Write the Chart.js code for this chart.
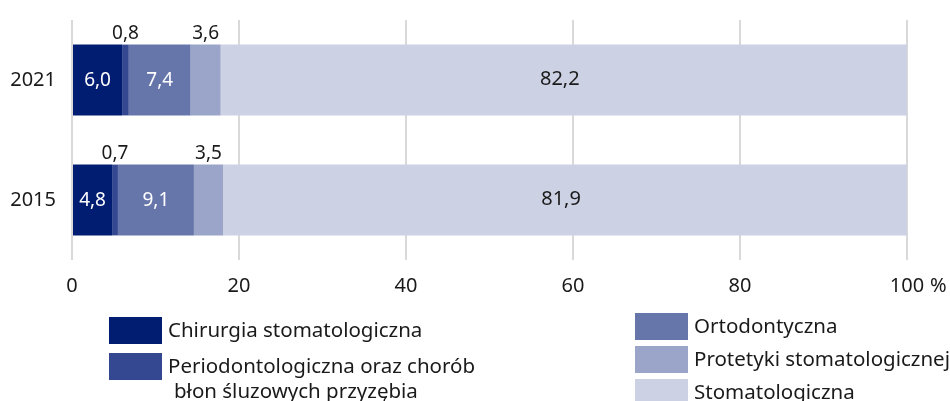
<!DOCTYPE html>
<html>
<head>
<meta charset="utf-8">
<script src="https://cdn.jsdelivr.net/npm/chart.js@4/dist/chart.umd.min.js"></script>
<style>
  html, body { margin: 0; padding: 0; background: #fff; }
  #wrap { position: relative; width: 950px; height: 401px; overflow: hidden; }
  canvas { position: absolute; left: 0; top: 0; }
  .leg { position: absolute; font-family: "Noto Sans", sans-serif; font-size: 20.5px; color: #1a1a1a; line-height: 25px; white-space: nowrap; }
  .leg i { position: absolute; left: 0; top: 0; width: 53px; height: 27px; }
  .leg span { position: absolute; left: 59px; top: 0px; }
  .leg b { font-weight: normal; padding-left: 6px; }
</style>
</head>
<body>
<div id="wrap">
  <canvas id="chart" width="950" height="401"></canvas>
</div>
<script>
// --- data ---
const years = ['2021', '2015'];
const seriesNames = [
    'Chirurgia stomatologiczna',
    'Periodontologiczna oraz chorób\nbłon śluzowych przyzębia',
    'Ortodontyczna',
    'Protetyki stomatologicznej',
    'Stomatologiczna'
];
const chirurgia = [6.0, 4.8];
const periodont = [0.8, 0.7];
const ortodont = [7.4, 9.1];
const protetyki = [3.6, 3.5];
const stomatolog = [82.2, 81.9];
const xTicks = [0, 20, 40, 60, 80, 100];

const colors = ['#001d72', '#344892', '#6676ab', '#9aa5c9', '#ccd2e4'];
const labelColors = ['#ffffff', '#ffffff', '#ffffff', '#1a1a1a', '#1a1a1a'];
// labels placed above the bar for narrow segments
const above = [false, true, false, true, false];
const FONT = '"Noto Sans", sans-serif';

const allSeries = [chirurgia, periodont, ortodont, protetyki, stomatolog];

const fmt = v => v.toFixed(1).replace('.', ',');

const labelPlugin = {
    id: 'segLabels',
    afterDatasetsDraw(chart) {
        const ctx = chart.ctx;
        ctx.save();
        ctx.textAlign = 'center';
        chart.data.datasets.forEach((ds, i) => {
            const meta = chart.getDatasetMeta(i);
            meta.data.forEach((bar, j) => {
                const cx = (bar.x + bar.base) / 2;
                const txt = fmt(ds.data[j]);
                if (above[i]) {
                    ctx.font = '19px ' + FONT;
                    ctx.fillStyle = '#1a1a1a';
                    ctx.textBaseline = 'alphabetic';
                    ctx.fillText(txt, cx, bar.y - bar.height / 2 - 6);
                } else if (i === 4) {
                    ctx.font = '20px "Liberation Sans Narrow", ' + FONT;
                    ctx.fillStyle = labelColors[i];
                    ctx.textBaseline = 'middle';
                    ctx.fillText(txt, cx - 4, bar.y - 1);
                } else {
                    ctx.font = '19px ' + FONT;
                    ctx.fillStyle = labelColors[i];
                    ctx.textBaseline = 'middle';
                    ctx.fillText(txt, cx, bar.y + 1);
                }
            });
        });
        // percent sign after the last tick
        const xs = chart.scales.x;
        ctx.font = '20px ' + FONT;
        ctx.fillStyle = '#1a1a1a';
        ctx.textAlign = 'left';
        ctx.textBaseline = 'middle';
        ctx.fillText('%', xs.getPixelForValue(100) + 23, 286);
        ctx.restore();
    }
};

const chart = new Chart(document.getElementById('chart'), {
    type: 'bar',
    data: {
        labels: years,
        datasets: allSeries.map((d, i) => ({
            label: seriesNames[i],
            data: d,
            backgroundColor: colors[i],
            borderWidth: 0,
            barPercentage: 0.59,
            categoryPercentage: 1
        }))
    },
    options: {
        indexAxis: 'y',
        responsive: false,
        animation: false,
        devicePixelRatio: 1,
        layout: { padding: { top: 11, right: 43, left: 0, bottom: 0 } },
        plugins: { legend: { display: false }, tooltip: { enabled: false } },
        scales: {
            x: {
                stacked: true,
                min: 0, max: 100,
                afterBuildTicks: s => { s.ticks = xTicks.map(v => ({ value: v })); },
                grid: { color: '#d9d9d9', lineWidth: 2, drawTicks: false },
                border: { display: false },
                ticks: { padding: 14, color: '#1a1a1a', font: { family: FONT, size: 20 } },
                afterFit: s => { s.height = 141; }
            },
            y: {
                stacked: true,
                grid: { display: false },
                border: { display: false },
                ticks: { padding: 8, color: '#1a1a1a', font: { family: FONT, size: 20 } },
                afterFit: s => { s.width = 72; }
            }
        }
    },
    plugins: [labelPlugin]
});

// --- legend (html) ---
const legendPos = [
    { x: 109, y: 317 }, { x: 109, y: 353 },
    { x: 635, y: 313 }, { x: 635, y: 346 }, { x: 635, y: 379 }
];
const wrap = document.getElementById('wrap');
seriesNames.forEach((name, i) => {
    const el = document.createElement('div');
    el.className = 'leg';
    el.style.left = legendPos[i].x + 'px';
    el.style.top = legendPos[i].y + 'px';
    const sw = document.createElement('i');
    sw.style.background = colors[i];
    const tx = document.createElement('span');
    const lines = name.split('\n');
    tx.textContent = lines[0];
    if (lines[1]) {
        tx.appendChild(document.createElement('br'));
        const b = document.createElement('b');
        b.textContent = lines[1];
        tx.appendChild(b);
    }
    el.appendChild(sw);
    el.appendChild(tx);
    wrap.appendChild(el);
});
</script>
</body>
</html>
